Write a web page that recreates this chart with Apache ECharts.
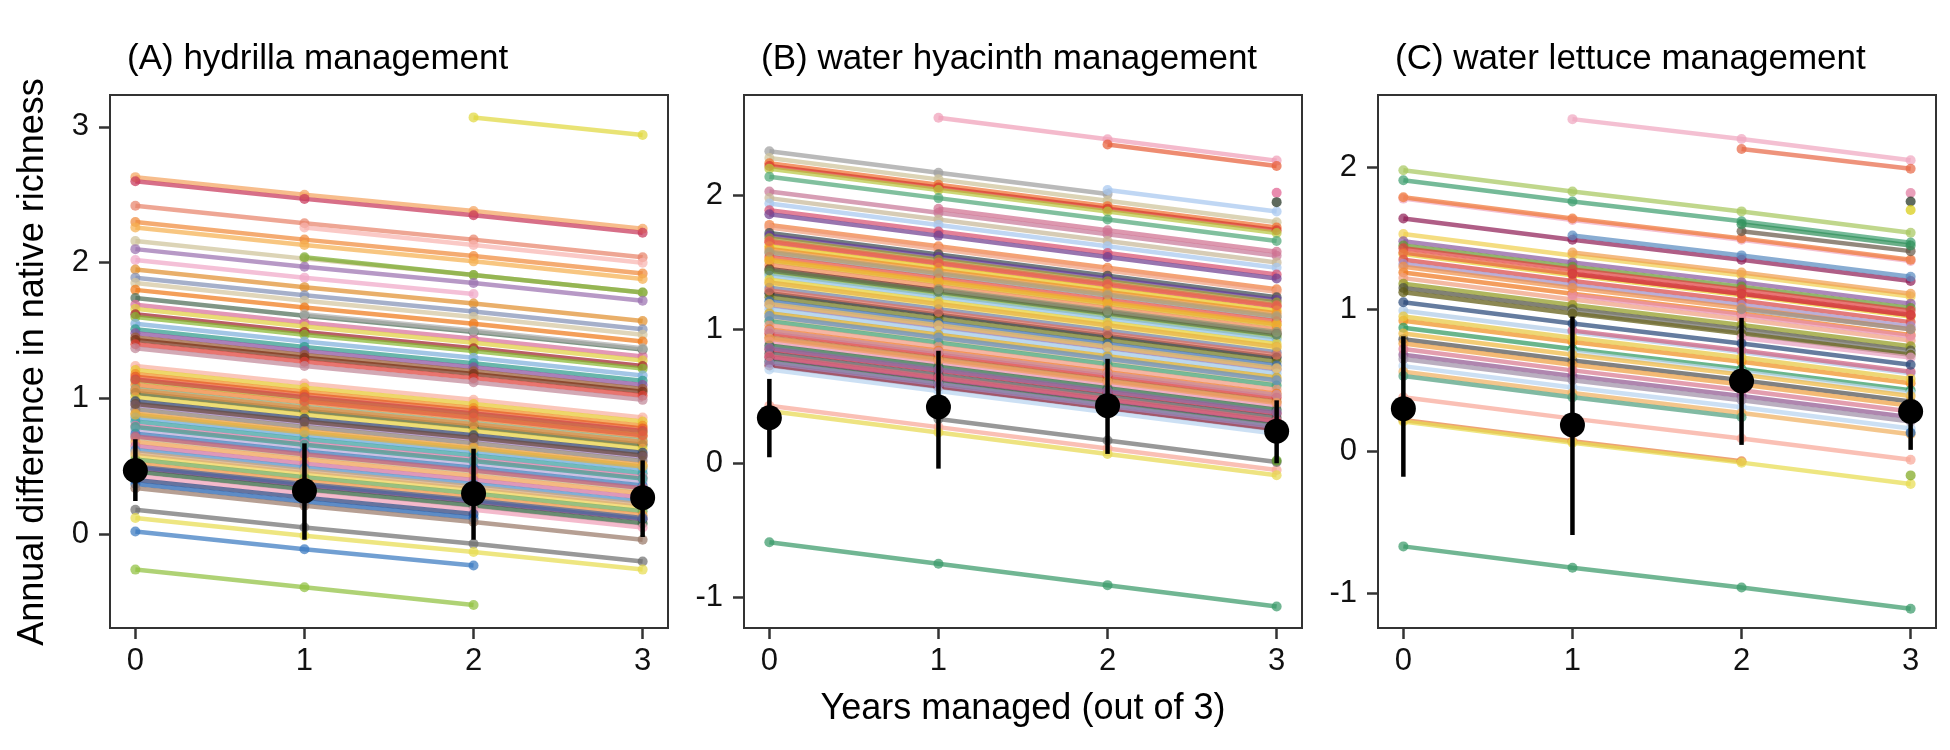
<!DOCTYPE html>
<html>
<head>
<meta charset="utf-8">
<title>Annual difference in native richness</title>
<script src="https://cdn.jsdelivr.net/npm/echarts@6/dist/echarts.min.js"></script>
<style>
    html, body { margin: 0; padding: 0; background: #fff; }
    #chart { width: 1950px; height: 750px; }
</style>
</head>
<body>
<div id="chart"></div>
<script>
// x positions (years managed) and axis ticks
const years = [0, 1, 2, 3];
const yearTicks = [0, 1, 2, 3];

const panelTitles = [
    '(A) hydrilla management',
    '(B) water hyacinth management',
    '(C) water lettuce management'
];

// site lines: value at year 0,1,2,3 (null = no survey that year)
const hydrillaSites = [
    [2.63, 2.50, 2.38, 2.25], [2.60, 2.47, 2.35, 2.22], [2.42, 2.29, 2.17, 2.04], [null, 2.26, 2.13, 2.00],
    [2.30, 2.17, 2.05, 1.92], [2.26, 2.13, 2.01, 1.88], [2.16, 2.03, 1.91, 1.78], [null, 2.04, 1.91, 1.78],
    [2.10, 1.97, 1.85, 1.72], [2.02, 1.89, 1.77, null], [1.95, 1.82, 1.70, 1.57], [1.89, 1.76, 1.64, 1.51],
    [1.85, 1.72, 1.60, 1.47], [1.80, 1.67, 1.55, 1.42], [1.74, 1.61, 1.49, 1.36], [1.69, 1.56, 1.44, 1.31],
    [1.66, 1.53, 1.41, 1.28], [1.62, 1.49, 1.37, 1.24], [1.60, 1.47, 1.35, 1.22], [1.55, 1.42, 1.30, 1.17],
    [1.51, 1.38, 1.26, 1.13], [1.48, 1.35, 1.23, 1.10], [1.45, 1.32, 1.20, 1.07], [1.43, 1.30, 1.18, 1.05],
    [1.40, 1.27, 1.15, 1.02], [1.37, 1.24, 1.12, 0.99], [1.24, 1.11, 0.99, 0.86], [1.21, 1.08, 0.96, 0.83],
    [1.18, 1.05, 0.93, 0.80], [1.16, 1.03, 0.91, 0.78], [1.13, 1.00, 0.88, 0.75], [1.10, 0.97, 0.85, 0.72],
    [1.07, 0.94, 0.82, 0.69], [1.04, 0.91, 0.79, 0.66], [1.01, 0.88, 0.76, 0.63], [0.98, 0.85, 0.73, 0.60],
    [0.95, 0.82, 0.70, 0.57], [0.92, 0.79, 0.67, 0.54], [0.89, 0.76, 0.64, 0.51], [0.86, 0.73, 0.61, 0.48],
    [0.83, 0.70, 0.58, 0.45], [0.80, 0.67, 0.55, 0.42], [0.77, 0.64, 0.52, 0.39], [0.74, 0.61, 0.49, 0.36],
    [0.71, 0.58, 0.46, 0.33], [0.68, 0.55, 0.43, 0.30], [0.65, 0.52, 0.40, 0.27], [0.62, 0.49, 0.37, 0.24],
    [0.58, 0.45, 0.33, 0.20], [0.55, 0.42, 0.30, 0.17], [0.52, 0.39, 0.27, 0.14], [0.49, 0.36, 0.24, 0.11],
    [0.46, 0.33, 0.21, 0.08], [0.43, 0.30, 0.18, 0.05], [0.40, 0.27, 0.15, null], [0.37, 0.24, 0.12, null],
    [0.34, 0.21, 0.09, -0.04], [0.18, 0.05, -0.07, -0.20], [0.12, -0.01, -0.13, -0.26], [0.02, -0.11, -0.23, null],
    [-0.26, -0.39, -0.52, null], [null, null, 3.07, 2.94], [1.14, 1.01, 0.89, 0.76], [1.06, 0.93, 0.81, 0.68],
    [0.96, 0.83, 0.71, 0.58], [0.88, 0.75, 0.63, 0.50], [0.79, 0.66, 0.54, 0.41], [0.72, 0.59, 0.47, 0.34],
    [0.60, 0.47, 0.35, 0.22], [0.50, 0.37, 0.25, 0.12], [null, 1.62, 1.50, 1.37], [null, 0.98, 0.86, 0.73]
];
const hyacinthSites = [
    [null, 2.58, 2.42, 2.26], [null, null, 2.38, 2.22], [2.33, 2.17, 2.01, null], [2.28, 2.12, 1.96, 1.80],
    [2.24, 2.08, 1.92, 1.76], [2.22, 2.06, 1.90, 1.74], [2.20, 2.04, 1.88, 1.72], [2.14, 1.98, 1.82, 1.66],
    [null, null, 2.04, 1.88], [null, null, null, 2.02], [null, null, null, 1.95], [2.03, 1.87, 1.71, 1.55],
    [1.98, 1.82, 1.66, 1.50], [1.94, 1.78, 1.62, 1.46], [1.89, 1.73, 1.57, 1.41], [1.86, 1.70, 1.54, 1.38],
    [1.78, 1.62, 1.46, 1.30], [1.76, 1.60, 1.44, 1.28], [1.72, 1.56, 1.40, 1.24], [1.70, 1.54, 1.38, 1.22],
    [1.68, 1.52, 1.36, 1.20], [1.65, 1.49, 1.33, 1.17], [1.62, 1.46, 1.30, 1.14], [1.60, 1.44, 1.28, 1.12],
    [1.57, 1.41, 1.25, 1.09], [1.54, 1.38, 1.22, 1.06], [1.51, 1.35, 1.19, 1.03], [1.48, 1.32, 1.16, 1.00],
    [1.45, 1.29, 1.13, 0.97], [1.42, 1.26, 1.10, 0.94], [1.40, 1.24, 1.08, 0.92], [1.37, 1.21, 1.05, 0.89],
    [1.34, 1.18, 1.02, 0.86], [1.31, 1.15, 0.99, 0.83], [1.27, 1.11, 0.95, 0.79], [1.24, 1.08, 0.92, 0.76],
    [1.21, 1.05, 0.89, 0.73], [1.18, 1.02, 0.86, 0.70], [1.15, 0.99, 0.83, 0.67], [1.12, 0.96, 0.80, 0.64],
    [1.09, 0.93, 0.77, 0.61], [1.06, 0.90, 0.74, 0.58], [1.03, 0.87, 0.71, 0.55], [1.00, 0.84, 0.68, 0.52],
    [0.97, 0.81, 0.65, 0.49], [0.94, 0.78, 0.62, 0.46], [0.91, 0.75, 0.59, 0.43], [0.88, 0.72, 0.56, 0.40],
    [0.85, 0.69, 0.53, 0.37], [0.82, 0.66, 0.50, 0.34], [0.79, 0.63, 0.47, 0.31], [0.76, 0.60, 0.44, 0.28],
    [0.73, 0.57, 0.41, 0.25], [0.70, 0.54, 0.38, 0.22], [0.75, 0.59, 0.43, 0.27], [0.43, 0.27, 0.11, -0.05],
    [0.39, 0.23, 0.07, -0.09], [null, 0.33, 0.17, 0.01], [-0.59, -0.75, -0.91, -1.07], [1.66, 1.50, 1.34, 1.18],
    [1.52, 1.36, 1.20, 1.04], [1.44, 1.28, 1.12, 0.96], [1.29, 1.13, 0.97, 0.81], [1.19, 1.03, 0.87, 0.71],
    [1.10, 0.94, 0.78, 0.62], [0.99, 0.83, 0.67, 0.51], [0.93, 0.77, 0.61, 0.45], [0.86, 0.70, 0.54, 0.38],
    [0.80, 0.64, 0.48, 0.32], [1.58, 1.42, 1.26, 1.10], [1.35, 1.19, 1.03, 0.87], [null, 1.90, 1.74, 1.58],
    [null, 1.30, 1.14, 0.98], [null, null, null, 0.02]
];
const lettuceSites = [
    [null, 2.34, 2.20, 2.05], [null, null, 2.13, 1.99], [null, null, null, 1.82], [null, null, null, 1.76],
    [null, null, null, 1.70], [1.98, 1.83, 1.69, 1.54], [1.91, 1.76, 1.62, 1.47], [1.78, 1.63, 1.49, 1.34],
    [1.79, 1.64, 1.50, 1.35], [1.64, 1.49, 1.35, 1.20], [null, 1.52, 1.38, 1.23], [1.53, 1.38, 1.24, 1.09],
    [1.48, 1.33, 1.19, 1.04], [1.45, 1.30, 1.16, 1.01], [1.43, 1.28, 1.14, 0.99], [1.39, 1.24, 1.10, 0.95],
    [1.35, 1.20, 1.06, 0.91], [1.32, 1.17, 1.03, 0.88], [1.26, 1.11, 0.97, 0.82], [1.22, 1.07, 0.93, 0.78],
    [1.18, 1.03, 0.89, 0.74], [1.15, 1.00, 0.86, 0.71], [0.99, 0.84, 0.70, 0.55], [0.92, 0.77, 0.63, 0.48],
    [0.87, 0.72, 0.58, 0.43], [0.79, 0.64, 0.50, 0.35], [0.76, 0.61, 0.47, 0.32], [0.68, 0.53, 0.39, 0.24],
    [0.60, 0.45, 0.31, 0.16], [0.56, 0.41, 0.27, 0.12], [0.53, 0.38, 0.24, null], [0.38, 0.23, 0.09, -0.06],
    [0.22, 0.07, -0.07, null], [0.21, 0.06, -0.08, -0.23], [null, null, null, -0.17], [null, null, null, 0.13],
    [-0.67, -0.82, -0.96, -1.11], [null, null, 1.55, 1.41], [null, null, 1.60, 1.45], [null, 1.10, 0.96, 0.81],
    [null, 0.98, 0.84, 0.69], [null, 0.85, 0.71, 0.56], [null, 0.70, 0.56, 0.41], [1.40, 1.25, 1.11, 0.96],
    [1.30, 1.15, 1.01, 0.86], [1.12, 0.97, 0.83, 0.68], [0.95, 0.80, 0.66, 0.51], [0.72, 0.57, 0.43, 0.28],
    [0.65, 0.50, 0.36, 0.21], [null, 1.25, 1.11, 0.96], [null, 1.40, 1.26, 1.11], [null, null, 1.00, 0.86],
    [null, null, 0.80, 0.66], [0.83, 0.68, 0.54, 0.39], [1.05, 0.90, 0.76, 0.61]
];

// overall estimate per year with interval
const hydrillaMean = [0.47, 0.32, 0.30, 0.27];
const hydrillaLow = [0.245, -0.04, -0.04, -0.02];
const hydrillaHigh = [0.70, 0.67, 0.63, 0.545];
const hyacinthMean = [0.34, 0.42, 0.43, 0.24];
const hyacinthLow = [0.045, -0.04, 0.07, 0.00];
const hyacinthHigh = [0.63, 0.84, 0.78, 0.47];
const lettuceMean = [0.30, 0.185, 0.495, 0.28];
const lettuceLow = [-0.18, -0.59, 0.045, 0.01];
const lettuceHigh = [0.81, 0.95, 0.94, 0.53];

const hydrillaTicks = [0, 1, 2, 3];
const hyacinthTicks = [-1, 0, 1, 2];
const lettuceTicks = [-1, 0, 1, 2];

// line colours, one per site
const hydrillaColors = [
    '#f4a460', '#c8385a', '#e8836b', '#f8b4b0', '#f08a3c', '#f5b050', '#cfc39a', '#7aaa2c',
    '#9b72b0', '#f0a8c8', '#e09030', '#8491b5', '#d4c6a0', '#f07a1a', '#4f6e58', '#d86f9a',
    '#e0d040', '#a0202c', '#86b830', '#7fb0dc', '#2e9a8a', '#8a4f9e', '#9a5a30', '#7a3018',
    '#e04038', '#c08898', '#f8b0a0', '#e8c830', '#f09028', '#e85a28', '#b0a828', '#f08030',
    '#8aa878', '#556020', '#e8d040', '#2c3e6e', '#a080c0', '#8c7d70', '#f0a040', '#66a6d8',
    '#3aa0a0', '#e07aa8', '#b9a8d8', '#3a78b8', '#c7b280', '#f0a050', '#d070a0', '#5090c8',
    '#f0d050', '#70a850', '#f09040', '#5a2a6a', '#2f5f3a', '#f0a0b8', '#2a3f7a', '#2060b0',
    '#9a7a6a', '#707070', '#e8dc50', '#3a7ac0', '#90c040', '#e0d840', '#d04848', '#e89048',
    '#6a4a3a', '#e0b040', '#40a090', '#c06080', '#d8a878', '#4a6aa0', '#b0b0b0', '#e06040'
];
const hyacinthColors = [
    '#f0a0b8', '#e8603a', '#a0a0a0', '#cfc39a', '#f07030', '#d83a30', '#b8c840', '#50a878',
    '#a8c8f0', '#e06090', '#203020', '#c87898', '#c8b898', '#a8c8f0', '#d85070', '#704090',
    '#f08040', '#f0a080', '#3a4a50', '#6a3d9a', '#a0a030', '#e04040', '#e8c820', '#f09030',
    '#909090', '#e85040', '#d8b020', '#f08850', '#6a2a20', '#80b040', '#90c0e8', '#e8d030',
    '#f0e070', '#7080a8', '#202020', '#707820', '#4070b0', '#9070b0', '#a0c8e8', '#d8a820',
    '#c8b890', '#40a070', '#f09880', '#f07828', '#d83030', '#c07030', '#e890b0', '#2a6a40',
    '#c02040', '#505050', '#902060', '#305a40', '#801830', '#b8d4f0', '#a088c0', '#f8a898',
    '#e8d850', '#707070', '#3a9a6a', '#e86a50', '#f0b030', '#5a7a4a', '#e07060', '#f0c060',
    '#6a90c0', '#c890a8', '#f0a060', '#8a70a8', '#e06878', '#b8a070', '#e8b040', '#d07090',
    '#909878', '#5a9a20'
];
const lettuceColors = [
    '#f0a8c0', '#e86a48', '#e07aa0', '#203020', '#d8cc10', '#a8c860', '#40a070', '#f0a8c0',
    '#f07838', '#902058', '#5a8cc0', '#f0d050', '#8a5aa0', '#6a9a30', '#e04040', '#e8d030',
    '#d84848', '#a090c8', '#f07820', '#f0a080', '#909a20', '#505040', '#b0cce8', '#f09020',
    '#309a60', '#505050', '#f0a040', '#905890', '#b8d4f0', '#f0b060', '#50a080', '#f8a898',
    '#e88040', '#e8dc50', '#80a820', '#2060a8', '#3a9a6a', '#6a5a4a', '#30905a', '#e890b0',
    '#a0a0a0', '#d06080', '#c0d8f0', '#e86040', '#f09048', '#605a10', '#e8c840', '#d87890',
    '#a090a8', '#d03040', '#f0a050', '#909090', '#e8a0c0', '#f0b840', '#2a4a7a'
];

const panels = [
    { sites: hydrillaSites, colors: hydrillaColors, mean: hydrillaMean, low: hydrillaLow, high: hydrillaHigh, ticks: hydrillaTicks, min: -0.69, max: 3.235 },
    { sites: hyacinthSites, colors: hyacinthColors, mean: hyacinthMean, low: hyacinthLow, high: hyacinthHigh, ticks: hyacinthTicks, min: -1.23, max: 2.75 },
    { sites: lettuceSites, colors: lettuceColors, mean: lettuceMean, low: lettuceLow, high: lettuceHigh, ticks: lettuceTicks, min: -1.245, max: 2.51 }
];

const FONT = '"Liberation Sans", Arial, Helvetica, sans-serif';
const gridLefts = [110, 744, 1378];

const chart = echarts.init(document.getElementById('chart'), null, { renderer: 'canvas' });

let grids = [], xAxes = [], yAxes = [], titles = [], series = [];

panels.forEach((p, i) => {
    grids.push({
        left: gridLefts[i], top: 95, width: 558, height: 533,
        show: true, borderColor: '#333', borderWidth: 2, backgroundColor: '#fff'
    });
    titles.push({
        text: panelTitles[i], left: gridLefts[i] + 17, top: 42, padding: 0,
        textStyle: { fontSize: 35, fontWeight: 'normal', color: '#000', fontFamily: FONT }
    });
    xAxes.push({
        type: 'value', gridIndex: i, min: -0.15, max: 3.15,
        axisLine: { show: true, onZero: false, lineStyle: { color: '#333', width: 2 } },
        axisTick: { show: true, length: 11, customValues: yearTicks, lineStyle: { color: '#333', width: 2.5 } },
        axisLabel: { customValues: yearTicks, fontSize: 31, color: '#111', margin: 18, fontFamily: FONT },
        splitLine: { show: false }
    });
    yAxes.push({
        type: 'value', gridIndex: i, min: p.min, max: p.max,
        axisLine: { show: true, onZero: false, lineStyle: { color: '#333', width: 2 } },
        axisTick: { show: true, length: 11, customValues: p.ticks, lineStyle: { color: '#333', width: 2.5 } },
        axisLabel: { customValues: p.ticks, fontSize: 31, color: '#111', margin: 21, fontFamily: FONT },
        splitLine: { show: false }
    });

    // one line per site
    p.sites.forEach((row, k) => {
        let col = p.colors[k % p.colors.length];
        let pts = [];
        row.forEach((v, j) => {
            if (v !== null) pts.push([years[j], v]);
        });
        series.push({
            type: 'line', xAxisIndex: i, yAxisIndex: i,
            data: pts,
            symbol: 'circle', symbolSize: 10, showSymbol: true,
            lineStyle: { width: 4.5, color: col, opacity: 0.72 },
            itemStyle: { color: col, opacity: 0.72 },
            silent: true, animation: false, z: 2
        });
    });

    // interval bars
    series.push({
        type: 'custom', xAxisIndex: i, yAxisIndex: i,
        data: years.map((y, j) => [y, p.low[j], p.high[j]]),
        renderItem: function (params, api) {
            let a = api.coord([api.value(0), api.value(1)]);
            let b = api.coord([api.value(0), api.value(2)]);
            return {
                type: 'line',
                shape: { x1: a[0], y1: a[1], x2: b[0], y2: b[1] },
                style: { stroke: '#000', lineWidth: 4.5 }
            };
        },
        silent: true, animation: false, z: 9
    });
    // overall estimate points
    series.push({
        type: 'scatter', xAxisIndex: i, yAxisIndex: i,
        data: years.map((y, j) => [y, p.mean[j]]),
        symbol: 'circle', symbolSize: 25,
        itemStyle: { color: '#000', opacity: 1 },
        silent: true, animation: false, z: 10
    });
});

chart.setOption({
    backgroundColor: '#fff',
    animation: false,
    title: titles,
    grid: grids,
    xAxis: xAxes,
    yAxis: yAxes,
    series: series,
    graphic: [
        {
            type: 'text', x: 1023, y: 709,
            style: { text: 'Years managed (out of 3)', font: '36px ' + FONT, fill: '#000', textAlign: 'center', textVerticalAlign: 'middle' }
        },
        {
            type: 'text', x: 33, y: 362, rotation: Math.PI / 2,
            style: { text: 'Annual difference in native richness', font: '36px ' + FONT, fill: '#000', textAlign: 'center', textVerticalAlign: 'middle' }
        }
    ]
});
</script>
</body>
</html>
